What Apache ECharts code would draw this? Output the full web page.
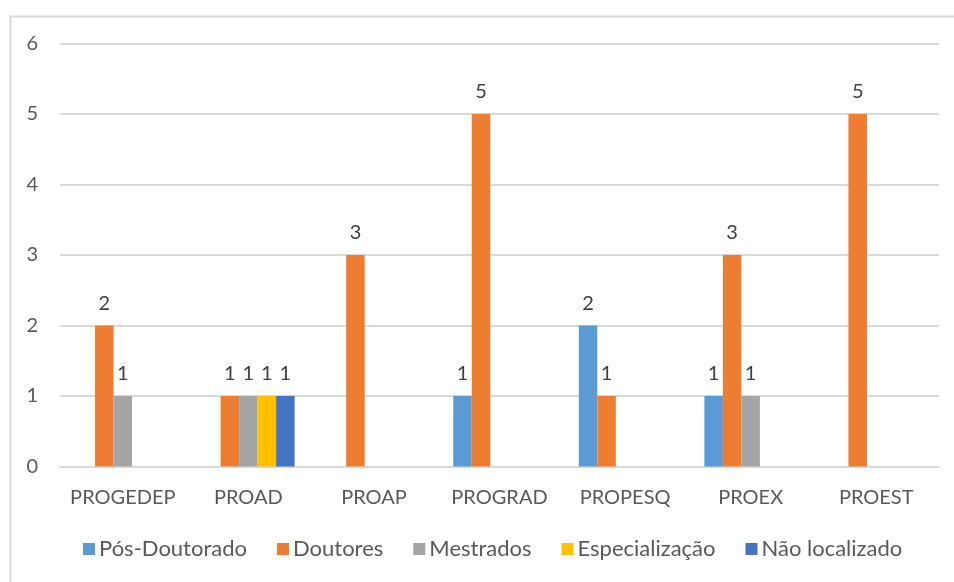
<!DOCTYPE html>
<html>
<head>
<meta charset="utf-8">
<script src="https://cdn.jsdelivr.net/npm/echarts@6/dist/echarts.min.js"></script>
<style>
html,body{margin:0;padding:0;background:#fff;}
#main{width:954px;height:582px;}
</style>
</head>
<body>
<div id="main"></div>
<script>
const categories = ['PROGEDEP','PROAD','PROAP','PROGRAD','PROPESQ','PROEX','PROEST'];
const seriesNames = ['Pós-Doutorado','Doutores','Mestrados','Especialização','Não localizado'];
const posDoutorado = [null, null, null, 1, 2, 1, null];
const doutores = [2, 1, 3, 5, 1, 3, 5];
const mestrados = [1, 1, null, null, null, 1, null];
const especializacao = [null, 1, null, null, null, null, null];
const naoLocalizado = [null, 1, null, null, null, null, null];
const yTicks = [0, 1, 2, 3, 4, 5, 6];
const colors = ['#5B9BD5','#ED7D31','#A5A5A5','#FFC000','#4472C4'];
const values = [posDoutorado, doutores, mestrados, especializacao, naoLocalizado];

const FONT = 'Lato';
const chart = echarts.init(document.getElementById('main'), null, {renderer:'canvas'});
chart.setOption({
  animation: false,
  color: colors,
  textStyle: {fontFamily: FONT},
  graphic: [{
    type: 'rect', left: 8, top: 14, silent: true, z: -10,
    shape: {width: 1000, height: 640},
    style: {fill: 'none', stroke: '#d9d9d9', lineWidth: 2}
  }],
  grid: {left: 60, right: 15, top: 43.5, bottom: 115.5, containLabel: false},
  legend: {
    bottom: 17, left: 78,
    itemWidth: 12, itemHeight: 12, itemGap: 30,
    icon: 'rect',
    textStyle: {color: '#595959', fontSize: 22, fontFamily: FONT, padding: [0,0,0,-1]},
    data: seriesNames
  },
  xAxis: {
    type: 'category', data: categories,
    axisLine: {lineStyle: {color: '#d9d9d9', width: 2}},
    axisTick: {show: false},
    axisLabel: {color: '#595959', fontSize: 20, fontFamily: FONT, margin: 21, interval: 0}
  },
  yAxis: {
    type: 'value', min: yTicks[0], max: yTicks[yTicks.length-1], interval: 1,
    axisLine: {show: false}, axisTick: {show: false},
    splitLine: {lineStyle: {color: '#d9d9d9', width: 2}},
    axisLabel: {color: '#595959', fontSize: 20, fontFamily: FONT, margin: 22}
  },
  series: values.map((v, i) => ({
    name: seriesNames[i], type: 'bar', data: v,
    barWidth: 18.5, barGap: '0%',
    itemStyle: {color: colors[i]},
    label: {show: true, position: 'top', distance: 12, color: '#404040', fontSize: 20, fontFamily: FONT}
  }))
});
</script>
</body>
</html>
